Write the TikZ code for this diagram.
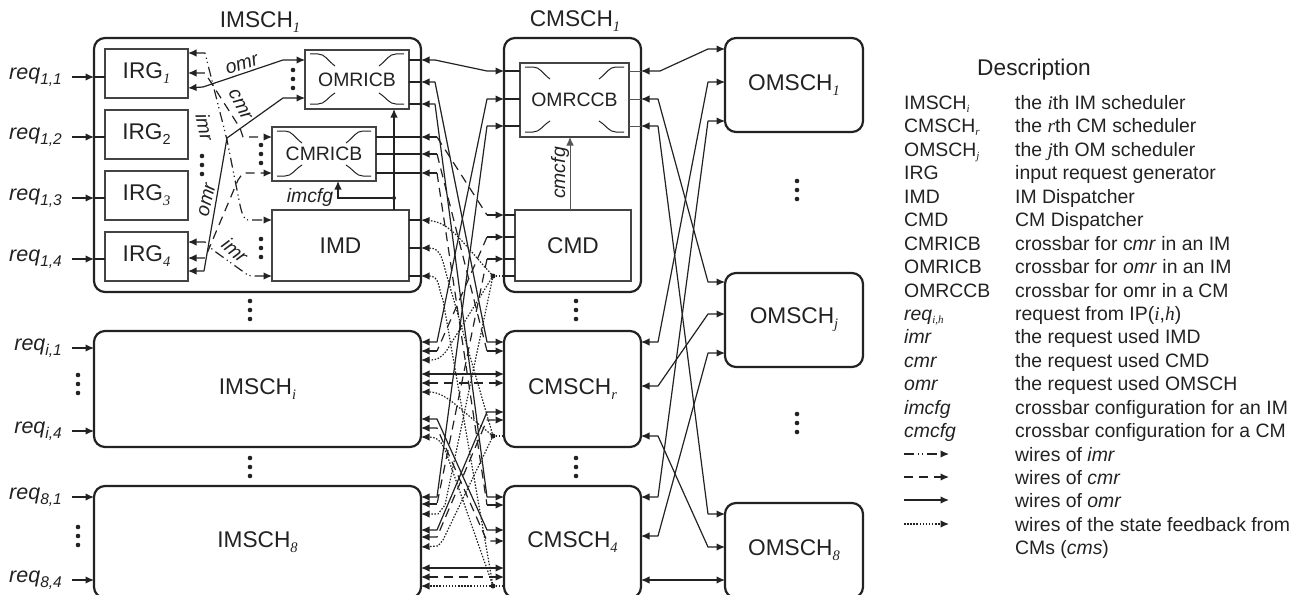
\documentclass[tikz,border=0pt]{standalone}
\usepackage{fontspec}
\setmainfont{Liberation Sans}
\newfontfamily\serf{Liberation Serif}
\usetikzlibrary{arrows.meta,calc}
\definecolor{ink}{HTML}{222222}
\definecolor{soft}{HTML}{555555}
\newcommand\bigf{\fontsize{22.7}{25}\selectfont}
\newcommand\midf{\fontsize{19.4}{22}\selectfont}
\newcommand\sbig[1]{\raisebox{-.22em}{\fontsize{14.5}{15}\selectfont\serf\itshape #1}}
\newcommand\snum[1]{\raisebox{-.22em}{\fontsize{14.5}{15}\selectfont #1}}
\newcommand\sleg[1]{\raisebox{-.2em}{\fontsize{11}{12}\selectfont\serf\itshape #1}}
\newcommand\reqlab[1]{\textit{req}\raisebox{-.25em}{\fontsize{15.5}{15}\selectfont\itshape #1}}
\newcommand\threedots[2]{%
  \fill[ink] (#1,#2-9) circle (2.3) (#1,#2) circle (2.3) (#1,#2+9) circle (2.3);}
\newcommand\xbar[1]{%
  \draw[xb] ($(#1.north west)+(5,4)$) -- ++(8,0) .. controls +(7,0) and +(-8,-6) .. ++(17,12);
  \draw[xb] ($(#1.north east)+(-5,4)$) -- ++(-8,0) .. controls +(-7,0) and +(8,-6) .. ++(-17,12);
  \draw[xb] ($(#1.south west)+(5,-5)$) -- ++(8,0) .. controls +(7,0) and +(-8,5) .. ++(17,-11);
  \draw[xb] ($(#1.south east)+(-5,-5)$) -- ++(-8,0) .. controls +(-7,0) and +(8,5) .. ++(-17,-11);}
\tikzset{
  x=1pt,y=-1pt,
  outerbox/.style={draw=ink,line width=2.2pt,rounded corners=11pt,inner sep=0pt,outer sep=0pt,font=\bigf,text=ink},
  innerbox/.style={draw=ink!85,line width=1.5pt,inner sep=0pt,outer sep=0pt,font=\bigf,text=ink},
  xbox/.style={innerbox,font=\midf},
  xb/.style={draw=ink,line width=1pt},
  wire/.style={draw=ink,line width=1.2pt,line join=round},
  tip/.style={-{Latex[length=8.5pt,width=7.5pt]}},
  tips/.style={{Latex[length=8.5pt,width=7.5pt]}-{Latex[length=8.5pt,width=7.5pt]}},
  omrw/.style={wire},
  cmrw/.style={wire,dash pattern=on 9pt off 6pt},
  imrw/.style={wire,dash pattern=on 10pt off 4pt on 1.2pt off 3pt on 1.2pt off 4pt},
  fbw/.style={wire,dash pattern=on 1.5pt off 1.6pt},
  stub/.style={draw=ink,line width=1.2pt},
  thinstub/.style={draw=soft,line width=.9pt},
  lab/.style={font=\midf\itshape,text=ink,inner sep=0pt},
  reqn/.style={font=\fontsize{21.5}{23}\selectfont,text=ink,inner sep=0pt,anchor=east},
  title/.style={font=\bigf,text=ink,inner sep=0pt},
  legk/.style={font=\midf,text=ink,inner sep=0pt,anchor=west,text height=14pt,text depth=0pt},
  legv/.style={legk},
  dotn/.style={circle,fill=ink,inner sep=0pt,minimum size=5pt,outer sep=0pt},
}
\begin{document}
\begin{tikzpicture}
\clip (0,0) rectangle (1305,594);
% outer boxes
\node[outerbox,minimum width=327pt,minimum height=254pt] (im1) at (257.5,165) {};
\node[outerbox,minimum width=327pt,minimum height=116pt] (imi) at (257.5,389) {IMSCH\sbig{i}};
\node[outerbox,minimum width=327pt,minimum height=112pt] (im8) at (257.5,542) {IMSCH\sbig{8}};
\node[outerbox,minimum width=137pt,minimum height=254pt] (cm1) at (572.5,165) {};
\node[outerbox,minimum width=137pt,minimum height=116pt] (cmr) at (572.5,389) {CMSCH\sbig{r}};
\node[outerbox,minimum width=137pt,minimum height=112pt] (cm4) at (572.5,542) {CMSCH\sbig{4}};
\node[outerbox,minimum width=138pt,minimum height=94pt] (om1) at (794,85) {OMSCH\sbig{1}};
\node[outerbox,minimum width=138pt,minimum height=94pt] (omj) at (794,320) {OMSCH\sbig{j}};
\node[outerbox,minimum width=138pt,minimum height=95pt] (om8) at (794,550.5) {OMSCH\sbig{8}};
\node[title] (t1) at (260,22) {IMSCH\sbig{1}};
\node[title] (t2) at (575,21) {CMSCH\sbig{1}};
% inner boxes
\node[innerbox,minimum width=83pt,minimum height=49pt] (irg1) at (146.5,73.5) {IRG\sbig{1}};
\node[innerbox,minimum width=83pt,minimum height=49pt] (irg2) at (146.5,134.5) {IRG\snum{2}};
\node[innerbox,minimum width=83pt,minimum height=49pt] (irg3) at (146.5,195.5) {IRG\sbig{3}};
\node[innerbox,minimum width=83pt,minimum height=49pt] (irg4) at (146.5,256.5) {IRG\sbig{4}};
\node[xbox,minimum width=104pt,minimum height=59pt] (omricb) at (357,79.5) {OMRICB};
\node[xbox,minimum width=104pt,minimum height=54pt] (cmricb) at (324,154) {CMRICB};
\node[innerbox,minimum width=137pt,minimum height=71pt] (imd) at (340.5,245.5) {IMD};
\node[xbox,minimum width=109pt,minimum height=74pt] (omrccb) at (574.5,100) {OMRCCB};
\node[innerbox,minimum width=116pt,minimum height=71pt] (cmd) at (573,245.5) {CMD};
\xbar{omricb}\xbar{cmricb}\xbar{omrccb}
% req inputs
\foreach \n/\y/\t in {a/77/{1,1},b/137/{1,2},c/198/{1,3},d/259/{1,4},e/348/{i,1},f/431/{i,4},g/497/{8,1},h/580/{8,4}}{
  \node[reqn] (req\n) at (62,\y) {\reqlab{\t}};
  \coordinate (reqe\n) at (im1.west |- 0,\y);
  \draw[stub,tip] (72,\y) -- (reqe\n);
}
\draw[stub] (reqea) -- (irg1.west |- reqea);
\draw[stub] (reqeb) -- (irg2.west |- reqeb);
\draw[stub] (reqec) -- (irg3.west |- reqec);
\draw[stub] (reqed) -- (irg4.west |- reqed);
% IM1 stubs
\foreach \y in {60,82,104}{\draw[stub] (omricb.east |- 0,\y) -- (im1.east |- 0,\y);}
\foreach \y in {137,154,173}{\draw[stub] (cmricb.east |- 0,\y) -- (im1.east |- 0,\y);}
\foreach \y in {220,248,276}{\draw[stub] (imd.east |- 0,\y) -- (im1.east |- 0,\y);}
\foreach \y in {71,99,126}{\draw[stub] (cm1.west |- 0,\y) -- (omrccb.west |- 0,\y);\draw[thinstub] (omrccb.east |- 0,\y) -- (cm1.east |- 0,\y);}
\foreach \y in {215,237,259,276}{\draw[stub] (cm1.west |- 0,\y) -- (cmd.west |- 0,\y);}
% internal IM1 wiring
\draw[omrw,tips] (irg1.east |- 0,88) -- (203,87) -- (283,60) -- (omricb.west |- 0,60);
\draw[omrw,tips] (irg4.east |- 0,271) -- (204,271) -- (227,138) -- (283,98) -- (omricb.west |- 0,98);
\draw[cmrw,tips] (irg1.east |- 0,73) -- (205,73) -- (240,128) -- (243,137) -- (cmricb.west |- 0,137);
\draw[cmrw,tips] (irg4.east |- 0,258) -- (205,258) -- (238,180) -- (243,173) -- (cmricb.west |- 0,173);
\draw[imrw,tips] (irg1.east |- 0,53) -- (205,53) -- (227,140) -- (240,205) .. controls (242,214) and (244,220) .. (248,220) -- (imd.west |- 0,220);
\draw[imrw,tips] (irg4.east |- 0,242) -- (205,242) -- (213,250) -- (245,273) .. controls (247,275) and (249,276) .. (252,276) -- (imd.west |- 0,276);
\draw[stub,tip] (imd.north -| 394,0) -- (omricb.south -| 394,0);
\node[dotn,minimum size=4pt] (branch) at (394,198) {};
\draw[stub,tip] (branch) -- (338,198) -- (cmricb.south -| 338,0);
\draw[thinstub,tip] (cmd.north -| 570,0) -- (omrccb.south -| 570,0);
% wire labels
\node[lab,rotate=17] (l1) at (242,65) {omr};
\node[lab,rotate=-63] (l2) at (240,105) {cmr};
\node[lab,rotate=-78] (l3) at (205,127) {imr};
\node[lab,rotate=77] (l4) at (207,200) {omr};
\node[lab,rotate=-42] (l5) at (235,250) {imr};
\node[lab] (l6) at (310,197) {imcfg};
\node[lab,rotate=90] (l7) at (560,173) {cmcfg};
% dot groups
\threedots{293}{79}\threedots{261}{154}\threedots{261}{248}\threedots{202}{165}
\threedots{250}{310}\threedots{250}{467}\threedots{78}{384}\threedots{78}{536}
\threedots{576}{310}\threedots{576}{467}\threedots{797}{190}\threedots{797}{423}
% IM <-> CM omr wires
\draw[omrw,tips] (im1.east |- 0,60) -- (435,60) -- (487,71) -- (cm1.west |- 0,71);
\draw[omrw,tips] (im1.east |- 0,82) -- (435,82) -- (487,342) -- (cmr.west |- 0,342);
\draw[omrw,tips] (im1.east |- 0,104) -- (435,104) -- (487,497) -- (cm4.west |- 0,497);
\draw[omrw,tips] (imi.east |- 0,342) -- (437,342) -- (487,99) -- (cm1.west |- 0,99);
\draw[omrw,tips] (im8.east |- 0,497) -- (437,497) -- (487,126) -- (cm1.west |- 0,126);
\draw[omrw,tips] (imi.east |- 0,374) -- (cmr.west |- 0,374);
\draw[omrw,tips] (im8.east |- 0,530) -- (437,530) -- (487,412) -- (cmr.west |- 0,412);
\draw[omrw,tips] (imi.east |- 0,419) -- (437,419) -- (487,530) -- (cm4.west |- 0,530);
\draw[omrw,tips] (im8.east |- 0,568) -- (cm4.west |- 0,568);
% cmr wires
\draw[stub,tip] (437,137) -- (im1.east |- 0,137);
\draw[stub,tip] (437,154) -- (im1.east |- 0,154);
\draw[stub,tip] (437,173) -- (im1.east |- 0,173);
\draw[cmrw] (437,137) -- (487,215);
\draw[stub,tip] (487,215) -- (cm1.west |- 0,215);
\draw[cmrw] (437,154) -- (487,351);
\draw[stub,tip] (487,351) -- (cmr.west |- 0,351);
\draw[cmrw] (437,173) -- (487,505);
\draw[stub,tip] (487,505) -- (cm4.west |- 0,505);
\draw[stub,tip] (487,237) -- (cm1.west |- 0,237);
\draw[cmrw] (487,237) -- (437,351);
\draw[stub,tip] (437,351) -- (imi.east |- 0,351);
\draw[stub,tip] (487,259) -- (cm1.west |- 0,259);
\draw[cmrw] (487,259) -- (437,504);
\draw[stub,tip] (437,504) -- (im8.east |- 0,504);
\draw[cmrw,tips] (imi.east |- 0,383) -- (cmr.west |- 0,383);
\draw[cmrw,tips] (im8.east |- 0,537) -- (437,537) -- (487,420) -- (cmr.west |- 0,420);
\draw[cmrw,tips] (imi.east |- 0,428) -- (437,428) -- (487,541) -- (cm4.west |- 0,541);
\draw[cmrw,tips] (im8.east |- 0,577) -- (cm4.west |- 0,577);
% state feedback
\node[dotn] (d1) at (493,276) {};
\node[dotn] (d2) at (493,436) {};
\node[dotn] (d3) at (493,586) {};
\draw[fbw] (d1) -- (cm1.west |- d1);
\draw[fbw] (d2) -- (cmr.west |- d2);
\draw[fbw] (d3) -- (cm4.west |- d3);
\draw[fbw,tip] (d1) .. controls (462,242) and (450,222) .. (im1.east |- 0,220);
\draw[fbw,tip] (d2) -- (448,280) .. controls (442,260) and (442,248) .. (im1.east |- 0,248);
\draw[fbw,tip] (d3) -- (443,300) .. controls (438,288) and (440,276) .. (im1.east |- 0,276);
\draw[fbw,tip] (d1) -- (447,350) .. controls (441,358) and (438,360) .. (imi.east |- 0,360);
\draw[fbw,tip] (d1) -- (445,505) -- (438,514) -- (im8.east |- 0,514);
\draw[fbw,tip] (d2) .. controls (455,405) and (445,392) .. (imi.east |- 0,392);
\draw[fbw,tip] (d2) -- (443,540) -- (438,546) -- (im8.east |- 0,547);
\draw[fbw,tip] (d3) -- (447,455) .. controls (443,445) and (440,437) .. (imi.east |- 0,437);
\draw[fbw,tip] (d3) -- (im8.east |- d3);
% CM <-> OM wires
\draw[omrw,tips] (cm1.east |- 0,71) -- (660,71) -- (708,49) -- (om1.west |- 0,49);
\draw[omrw,tips] (cm1.east |- 0,99) -- (658,99) -- (708,282) -- (omj.west |- 0,282);
\draw[omrw,tips] (cm1.east |- 0,126) -- (658,126) -- (708,514) -- (om8.west |- 0,514);
\draw[omrw,tips] (cmr.east |- 0,342) -- (658,342) -- (708,82) -- (om1.west |- 0,82);
\draw[omrw,tips] (cmr.east |- 0,386) -- (658,386) -- (708,314) -- (omj.west |- 0,314);
\draw[omrw,tips] (cmr.east |- 0,436) -- (658,436) -- (708,547) -- (om8.west |- 0,547);
\draw[omrw,tips] (cm4.east |- 0,497) -- (658,497) -- (708,121) -- (om1.west |- 0,121);
\draw[omrw,tips] (cm4.east |- 0,536) -- (658,536) -- (708,353) -- (omj.west |- 0,353);
\draw[omrw,tips] (cm4.east |- 0,580) -- (om8.west |- 0,580);
% legend
\node[title] (desc) at (1034,70) {Description};
\node[legk] (k1) at (904,102) {IMSCH\sleg{i}};
\node[legv] (v1) at (1015,102) {the \textit{\serf i}th IM scheduler};
\node[legk] (k2) at (904,125) {CMSCH\sleg{r}};
\node[legv] (v2) at (1015,125) {the \textit{\serf r}th CM scheduler};
\node[legk] (k3) at (904,149) {OMSCH\sleg{j}};
\node[legv] (v3) at (1015,149) {the \textit{\serf j}th OM scheduler};
\node[legk] (k4) at (904,172) {IRG};
\node[legv] (v4) at (1015,172) {input request generator};
\node[legk] (k5) at (904,196) {IMD};
\node[legv] (v5) at (1015,196) {IM Dispatcher};
\node[legk] (k6) at (904,219) {CMD};
\node[legv] (v6) at (1015,219) {CM Dispatcher};
\node[legk] (k7) at (904,243) {CMRICB};
\node[legv] (v7) at (1015,243) {crossbar for c\textit{mr} in an IM};
\node[legk] (k8) at (904,266) {OMRICB};
\node[legv] (v8) at (1015,266) {crossbar for \textit{omr} in an IM};
\node[legk] (k9) at (904,290) {OMRCCB};
\node[legv] (v9) at (1015,290) {crossbar for omr in a CM};
\node[legk] (k10) at (904,313) {\textit{req}\sleg{i,h}};
\node[legv] (v10) at (1015,313) {request from IP(\textit{\serf i},\textit{\serf h})};
\node[legk] (k11) at (904,336) {\textit{imr}};
\node[legv] (v11) at (1015,336) {the request used IMD};
\node[legk] (k12) at (904,360) {\textit{cmr}};
\node[legv] (v12) at (1015,360) {the request used CMD};
\node[legk] (k13) at (904,383) {\textit{omr}};
\node[legv] (v13) at (1015,383) {the request used OMSCH};
\node[legk] (k14) at (904,407) {\textit{imcfg}};
\node[legv] (v14) at (1015,407) {crossbar configuration for an IM};
\node[legk] (k15) at (904,430) {\textit{cmcfg}};
\node[legv] (v15) at (1015,430) {crossbar configuration for a CM};
\node[legv] (v16) at (1015,454) {wires of \textit{imr}};
\node[legv] (v17) at (1015,477) {wires of \textit{cmr}};
\node[legv] (v18) at (1015,500) {wires of \textit{omr}};
\node[legv] (v19) at (1015,524) {wires of the state feedback from};
\node[legv] (v20) at (1015,547) {CMs (\textit{cms})};
\coordinate (s1) at (904,454);\coordinate (e1) at (949,454);
\coordinate (s2) at (904,477);\coordinate (e2) at (949,477);
\coordinate (s3) at (904,500);\coordinate (e3) at (949,500);
\coordinate (s4) at (904,524);\coordinate (e4) at (949,524);
\draw[imrw,tip] (s1) -- (e1);
\draw[cmrw,tip] (s2) -- (e2);
\draw[omrw,tip] (s3) -- (e3);
\draw[fbw,tip] (s4) -- (e4);
\end{tikzpicture}
\end{document}
